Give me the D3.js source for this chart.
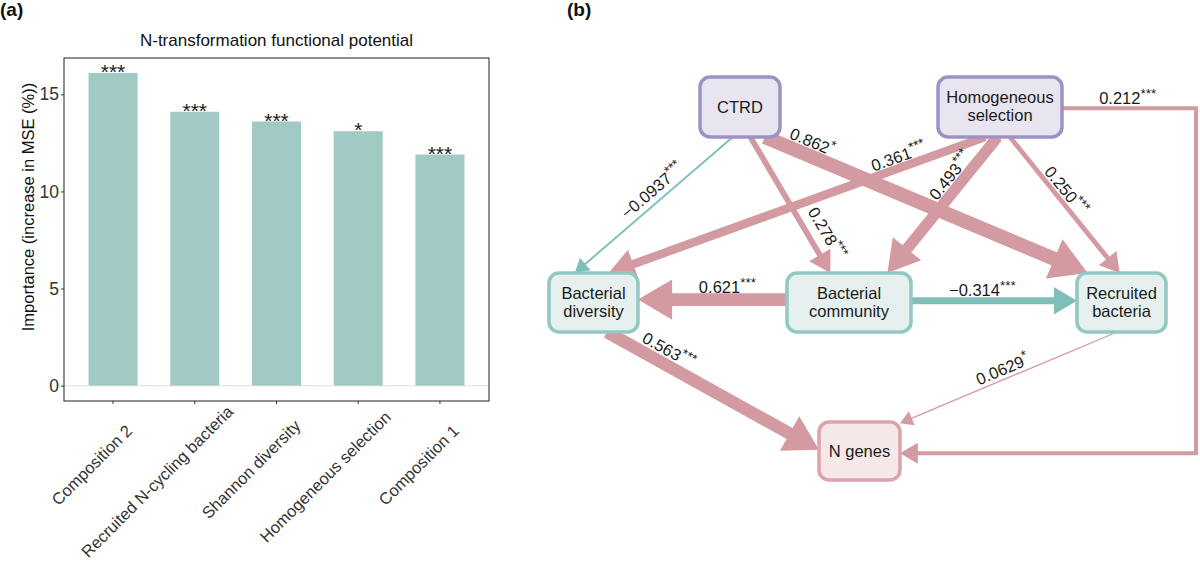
<!DOCTYPE html>
<html><head><meta charset="utf-8">
<script src="https://cdn.jsdelivr.net/npm/d3@7"></script>
<style>body{margin:0;background:#fff;} text{font-family:"Liberation Sans",Arial,sans-serif;}</style>
</head><body><svg id="c" width="1200" height="562"></svg>
<script>
// ---------- Panel (a) data ----------
const categories = ["Composition 2","Recruited N-cycling bacteria","Shannon diversity","Homogeneous selection","Composition 1"];
const importance = [16.1, 14.1, 13.6, 13.1, 11.9];
const significance = ["***","***","***","*","***"];
const yTicks = [0,5,10,15];

// ---------- Panel (b) data ----------
const nodeIds   = ["CTRD","HS","BD","BC","RB","NG"];
const nodeLines = [["CTRD"],["Homogeneous","selection"],["Bacterial","diversity"],["Bacterial","community"],["Recruited","bacteria"],["N genes"]];
const edgeFrom  = ["CTRD","CTRD","CTRD","HS","HS","HS","HS","BC","BC","BD","RB"];
const edgeTo    = ["BD","BC","RB","BD","BC","RB","NG","BD","RB","NG","NG"];
const edgeCoef  = [-0.0937, 0.278, 0.862, 0.361, 0.493, 0.250, 0.212, 0.621, -0.314, 0.563, 0.0629];
const edgeSig   = ["***","***","*","***","***","***","***","***","***","***","*"];

// ---------- layout / style ----------
const nodeLayout = {
  CTRD:{x0:700,y0:77,w:80,h:60,type:"driver"},
  HS:{x0:938,y0:77,w:124,h:60,type:"driver"},
  BD:{x0:549,y0:273,w:89,h:59,type:"bact"},
  BC:{x0:787,y0:273,w:124,h:59,type:"bact"},
  RB:{x0:1077,y0:273,w:89,h:59,type:"bact"},
  NG:{x0:819,y0:422,w:81,h:58,type:"gene"}
};
const nodeStyle = {
  driver:{stroke:"#9d92c4",fill:"#e8e5f1"},
  bact:{stroke:"#93c8c2",fill:"#e6f1ef"},
  gene:{stroke:"#dca4aa",fill:"#f6e8e9"}
};
// anchors: [src fx, fy], [tgt fx, fy], label t, label offset, elbow x
const edgeLayout = [
  {s:[0.41,1],t:[0.29,0],lt:0.46,lo:12},
  {s:[0.63,1],t:[0.35,0],lt:0.77,lo:17},
  {s:[0.81,1],t:[0.12,0],lt:0.13,lo:14},
  {s:[0.38,1],t:[0.67,0],lt:0.22,lo:11},
  {s:[0.48,1],t:[0.81,0],lt:0.34,lo:12.5},
  {s:[0.58,1],t:[0.48,0],lt:0.44,lo:10},
  {s:[1,0.52],t:[1,0.54],lt:0.49,lo:10,elbow:1196},
  {s:[0,0.45],t:[1,0.45],lt:0.4,lo:12},
  {s:[1,0.47],t:[0,0.47],lt:0.43,lo:10},
  {s:[0.65,1],t:[0,0.48],lt:0.26,lo:14},
  {s:[0.45,1],t:[1.0,0.02],lt:0.51,lo:10}
];
const POS = "#d49aa1", NEG = "#7fbfba";

const svg = d3.select("#c");

// ================= Panel (a) =================
const A = {left:64,right:489,top:58,bottom:401};
const y = d3.scaleLinear().domain([-0.79,16.87]).range([A.bottom,A.top]);
const x = d3.scaleBand().domain(categories).range([A.left,A.right]).paddingInner(0.4).paddingOuter(0.3);

svg.append("text").attr("x",0).attr("y",16).attr("font-size",19).attr("font-weight","bold").attr("fill","#111").text("(a)");
svg.append("text").attr("x",(A.left+A.right)/2).attr("y",45.5).attr("text-anchor","middle")
  .attr("font-size",17).attr("fill","#111").text("N-transformation functional potential");

// zero gridline
svg.append("line").attr("x1",A.left).attr("x2",A.right).attr("y1",y(0)).attr("y2",y(0))
  .attr("stroke","#e6e6e6").attr("stroke-width",1.2);

svg.append("g").selectAll("rect").data(importance).join("rect")
  .attr("x",(d,i)=>x(categories[i])).attr("width",x.bandwidth())
  .attr("y",d=>y(d)).attr("height",d=>y(0)-y(d)).attr("fill","#a2cac5");

svg.append("g").selectAll("text").data(significance).join("text")
  .attr("x",(d,i)=>x(categories[i])+x.bandwidth()/2)
  .attr("y",(d,i)=>y(importance[i])+6).attr("text-anchor","middle")
  .attr("font-size",21).attr("fill","#222").text(d=>d);

svg.append("rect").attr("x",A.left).attr("y",A.top).attr("width",A.right-A.left).attr("height",A.bottom-A.top)
  .attr("fill","none").attr("stroke","#333").attr("stroke-width",1.1);

// y axis
const yAxis = svg.append("g").attr("transform",`translate(${A.left},0)`)
  .call(d3.axisLeft(y).tickValues(yTicks).tickSize(3).tickPadding(2));
yAxis.select(".domain").remove();
yAxis.selectAll("line").attr("stroke","#333");
yAxis.selectAll("text").attr("font-size",17.5).attr("fill","#333").attr("font-family","Liberation Sans, Arial, sans-serif");

// x axis ticks
const xAxis = svg.append("g").attr("transform",`translate(0,${A.bottom})`)
  .call(d3.axisBottom(x).tickSize(3).tickFormat(""));
xAxis.select(".domain").remove();
xAxis.selectAll("line").attr("stroke","#333");

categories.forEach(c=>{
  const tx = x(c)+x.bandwidth()/2;
  const g = svg.append("g").attr("transform",`translate(${tx+24},${A.bottom+3+24}) rotate(-45)`);
  const t = g.append("text").text(c).attr("font-size",16.5).attr("fill","#333").attr("text-anchor","end");
  const len = t.node().getComputedTextLength();
  t.attr("x",-34+0.27*len);
});

svg.append("text").attr("transform",`translate(34,207) rotate(-90)`).attr("text-anchor","middle")
  .attr("font-size",16.5).attr("fill","#111").text("Importance (increase in MSE (%))");

// ================= Panel (b) =================
svg.append("text").attr("x",567).attr("y",16).attr("font-size",19).attr("font-weight","bold").attr("fill","#111").text("(b)");

const widthScale = d3.scaleLinear().domain([0.06,0.25,0.36,0.56,0.87]).range([1.3,4.8,8.5,12.5,14]);
const fmt = d3.format(".3r");
function anchor(id,a){const n=nodeLayout[id];return [n.x0+a[0]*n.w,n.y0+a[1]*n.h];}

const gE = svg.append("g");
const gL = svg.append("g");
edgeCoef.forEach((coef,i)=>{
  const L = edgeLayout[i];
  const col = coef<0?NEG:POS;
  const w = widthScale(Math.abs(coef));
  const p0 = anchor(edgeFrom[i],L.s), p1 = anchor(edgeTo[i],L.t);
  let pts;
  if(L.elbow){ pts=[p0,[L.elbow,p0[1]],[L.elbow,p1[1]],p1]; }
  else pts=[p0,p1];
  const pa = pts[pts.length-2], pb = pts[pts.length-1];
  const dx=pb[0]-pa[0], dy=pb[1]-pa[1], len=Math.hypot(dx,dy);
  const ux=dx/len, uy=dy/len, nx=-uy, ny=ux;
  const B = 12+2.2*w, H = 0.85*B;
  const bc=[pb[0]-ux*H, pb[1]-uy*H];
  const linePts = pts.slice(0,-1).concat([[bc[0]+ux*1,bc[1]+uy*1]]);
  gE.append("path").attr("d",d3.line()(linePts)).attr("fill","none").attr("stroke",col)
    .attr("stroke-width",w).attr("stroke-linejoin","miter");
  gE.append("path").attr("d",d3.line()([pb,[bc[0]+nx*B/2,bc[1]+ny*B/2],[bc[0]-nx*B/2,bc[1]-ny*B/2]])+"Z").attr("fill",col);

  // label along first segment
  const q0=pts[0], q1=pts[1];
  const ex=q1[0]-q0[0], ey=q1[1]-q0[1];
  let ang = Math.atan2(ey,ex)*180/Math.PI;
  if(ang>90) ang-=180; if(ang<-90) ang+=180;
  const r=ang*Math.PI/180, upx=Math.sin(r), upy=-Math.cos(r);
  const cx=q0[0]+ex*L.lt+upx*L.lo, cy=q0[1]+ey*L.lt+upy*L.lo;
  const t = gL.append("text").attr("transform",`translate(${cx},${cy}) rotate(${ang})`)
    .attr("text-anchor","middle").attr("dy","0.36em").attr("fill","#1a1a1a");
  t.append("tspan").attr("font-size",16.5).text(fmt(coef));
  t.append("tspan").attr("font-size",13.5).attr("dy","-0.45em").text(edgeSig[i]);
});

const gN = svg.append("g");
nodeIds.forEach((id,i)=>{
  const n=nodeLayout[id], st=nodeStyle[n.type];
  gN.append("rect").attr("x",n.x0).attr("y",n.y0).attr("width",n.w).attr("height",n.h)
    .attr("rx",10).attr("ry",10).attr("fill",st.fill).attr("stroke",st.stroke).attr("stroke-width",3.5);
  const lines=nodeLines[i], cx=n.x0+n.w/2, cy=n.y0+n.h/2;
  lines.forEach((s,k)=>{
    const base = lines.length===1? cy+6 : cy-4+k*18;
    gN.append("text").attr("x",cx).attr("y",base).attr("text-anchor","middle")
      .attr("font-size",16.5).attr("fill","#1a1a1a").text(s);
  });
});
</script></body></html>
